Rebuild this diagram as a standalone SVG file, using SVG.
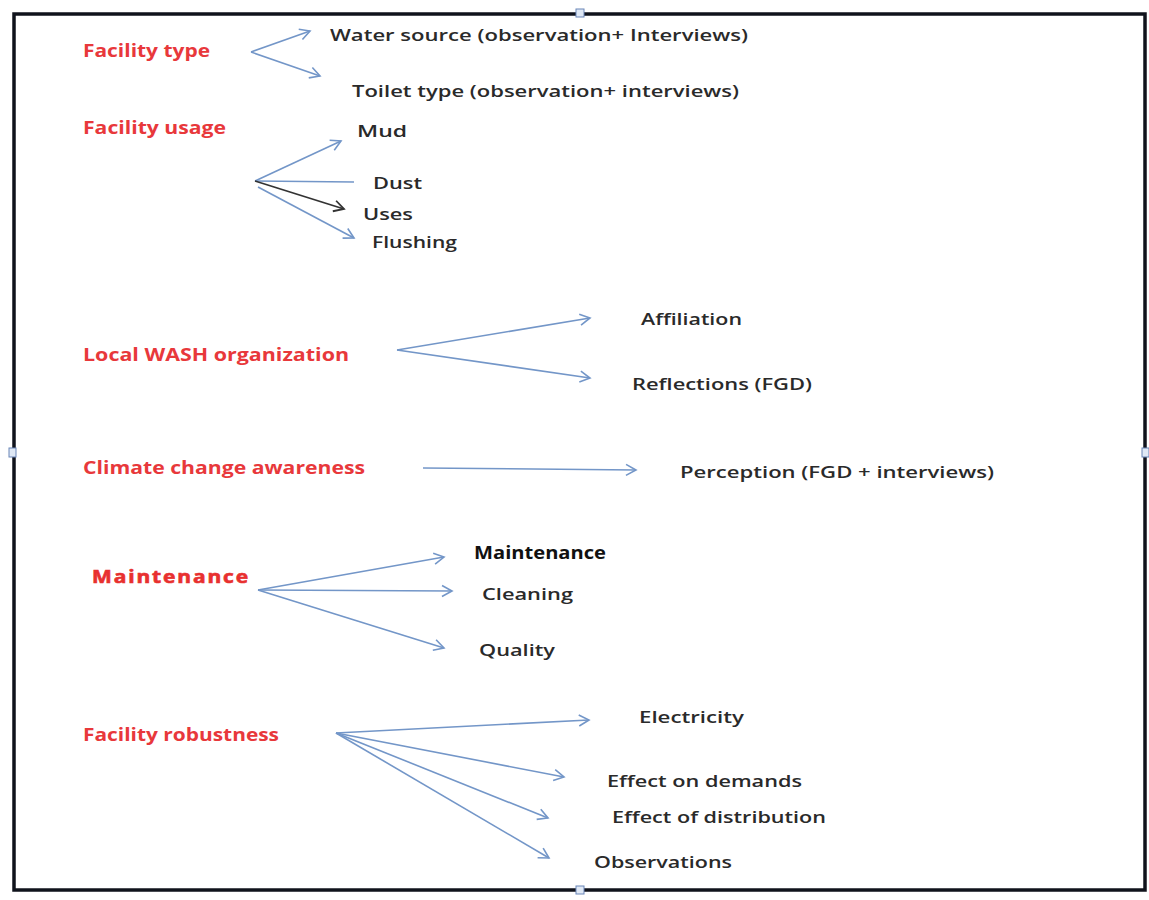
<svg xmlns="http://www.w3.org/2000/svg" width="1149" height="900" viewBox="0 0 1149 900">
  <defs>
    <marker id="open-arrow" markerUnits="userSpaceOnUse" markerWidth="14" markerHeight="14" viewBox="0 0 14 14" refX="12" refY="7" orient="auto">
      <path d="M2,1.5 L12,7 L2,12.5" fill="none" stroke="#7396c8" stroke-width="1.6"/>
    </marker>
    <marker id="open-arrow-dark" markerUnits="userSpaceOnUse" markerWidth="14" markerHeight="14" viewBox="0 0 14 14" refX="12" refY="7" orient="auto">
      <path d="M2,1.5 L12,7 L2,12.5" fill="none" stroke="#333" stroke-width="1.8"/>
    </marker>
    <style>
      .topic { font-family: "Open Sans", "Liberation Sans", sans-serif; font-weight: 700; font-size: 17px; fill: #e8383b; }
      .item { font-family: "Open Sans", "Liberation Sans", sans-serif; font-weight: 600; font-size: 17px; fill: #2a2a2a; }
      .heavy { fill: #e8302f; stroke: #e8302f; stroke-width: 0.6; letter-spacing: 1.5px; }
      .link { fill: none; stroke: #7396c8; stroke-width: 1.6; }
      .link.arrow { marker-end: url(#open-arrow); }
      .link.dark { stroke: #333; stroke-width: 1.8; marker-end: url(#open-arrow-dark); }
      .handle { fill: #dfe8f5; stroke: #6a86b8; stroke-width: 1; }
    </style>
  </defs>

  <rect x="0" y="0" width="1149" height="900" fill="#ffffff"/>

  <!-- outer frame with selection handles -->
  <g id="frame">
    <rect x="14" y="14" width="1131" height="876" fill="none" stroke="#10131c" stroke-width="3.5"/>
    <rect class="handle" x="576" y="9" width="8" height="8"/>
    <rect class="handle" x="576" y="886" width="8" height="8"/>
    <rect class="handle" x="9" y="448" width="7" height="9"/>
    <rect class="handle" x="1142" y="448" width="7" height="9"/>
  </g>

  <!-- connectors -->
  <g id="connectors">
    <path class="link arrow" d="M251,52 L310,31"/>
    <path class="link arrow" d="M251,52 L320,76"/>

    <path class="link arrow" d="M255,181 L341,141"/>
    <path class="link" d="M255,181 L354,182"/>
    <path class="link dark" d="M255,181 L344,209"/>
    <path class="link arrow" d="M258,187 L354,238"/>

    <path class="link arrow" d="M397,350 L590,318"/>
    <path class="link arrow" d="M397,350 L590,378"/>

    <path class="link arrow" d="M423,468 L636,470"/>

    <path class="link arrow" d="M258,590 L444,557"/>
    <path class="link arrow" d="M258,590 L452,591"/>
    <path class="link arrow" d="M258,590 L444,648"/>

    <path class="link arrow" d="M336,733 L589,720"/>
    <path class="link arrow" d="M336,733 L564,777"/>
    <path class="link arrow" d="M336,733 L548,818"/>
    <path class="link arrow" d="M336,733 L549,858"/>
  </g>

  <g id="facility-type">
    <text class="topic" x="83" y="57" textLength="127" lengthAdjust="spacingAndGlyphs">Facility type</text>
  </g>
  <g id="water-source">
    <text class="item" x="330" y="41" textLength="418" lengthAdjust="spacingAndGlyphs">Water source (observation+ Interviews)</text>
  </g>
  <g id="toilet-type">
    <text class="item" x="352" y="97" textLength="387" lengthAdjust="spacingAndGlyphs">Toilet type (observation+ interviews)</text>
  </g>

  <g id="facility-usage">
    <text class="topic" x="83" y="134" textLength="143" lengthAdjust="spacingAndGlyphs">Facility usage</text>
  </g>
  <g id="mud">
    <text class="item" x="357" y="137" textLength="50" lengthAdjust="spacingAndGlyphs">Mud</text>
  </g>
  <g id="dust">
    <text class="item" x="373" y="189" textLength="49" lengthAdjust="spacingAndGlyphs">Dust</text>
  </g>
  <g id="uses">
    <text class="item" x="363" y="220" textLength="50" lengthAdjust="spacingAndGlyphs">Uses</text>
  </g>
  <g id="flushing">
    <text class="item" x="372" y="248" textLength="85" lengthAdjust="spacingAndGlyphs">Flushing</text>
  </g>

  <g id="local-wash">
    <text class="topic" x="83" y="361" textLength="266" lengthAdjust="spacingAndGlyphs">Local WASH organization</text>
  </g>
  <g id="affiliation">
    <text class="item" x="641" y="325" textLength="101" lengthAdjust="spacingAndGlyphs">Affiliation</text>
  </g>
  <g id="reflections">
    <text class="item" x="632" y="390" textLength="180" lengthAdjust="spacingAndGlyphs">Reflections (FGD)</text>
  </g>

  <g id="climate-awareness">
    <text class="topic" x="83" y="474" textLength="282" lengthAdjust="spacingAndGlyphs">Climate change awareness</text>
  </g>
  <g id="perception">
    <text class="item" x="680" y="478" textLength="314" lengthAdjust="spacingAndGlyphs">Perception (FGD + interviews)</text>
  </g>

  <g id="maintenance-topic">
    <text class="topic heavy" x="92" y="583" textLength="158" lengthAdjust="spacingAndGlyphs">Maintenance</text>
  </g>
  <g id="maintenance-item">
    <text class="item" x="474" y="559" textLength="132" lengthAdjust="spacingAndGlyphs" style="font-weight:700;fill:#111">Maintenance</text>
  </g>
  <g id="cleaning">
    <text class="item" x="482" y="600" textLength="91" lengthAdjust="spacingAndGlyphs">Cleaning</text>
  </g>
  <g id="quality">
    <text class="item" x="479" y="656" textLength="76" lengthAdjust="spacingAndGlyphs">Quality</text>
  </g>

  <g id="facility-robustness">
    <text class="topic" x="83" y="741" textLength="196" lengthAdjust="spacingAndGlyphs">Facility robustness</text>
  </g>
  <g id="electricity">
    <text class="item" x="639" y="723" textLength="105" lengthAdjust="spacingAndGlyphs">Electricity</text>
  </g>
  <g id="effect-demands">
    <text class="item" x="607" y="787" textLength="195" lengthAdjust="spacingAndGlyphs">Effect on demands</text>
  </g>
  <g id="effect-distribution">
    <text class="item" x="612" y="823" textLength="214" lengthAdjust="spacingAndGlyphs">Effect of distribution</text>
  </g>
  <g id="observations">
    <text class="item" x="594" y="868" textLength="138" lengthAdjust="spacingAndGlyphs">Observations</text>
  </g>
</svg>
